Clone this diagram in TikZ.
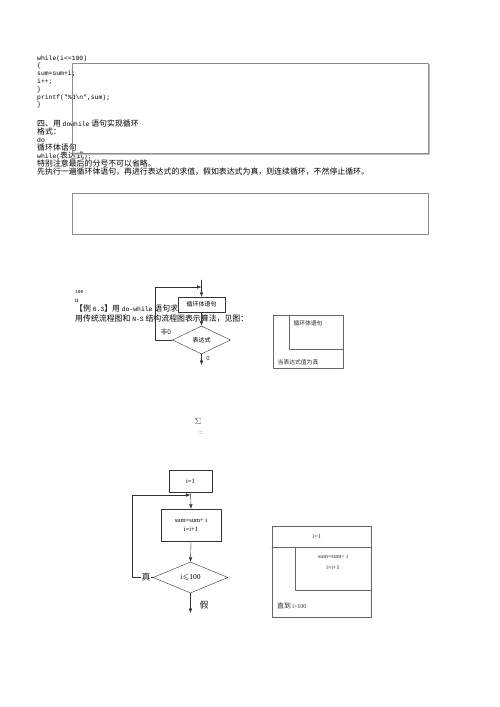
\documentclass[tikz,border=0pt]{standalone}
\usepackage{fontspec}
\setmainfont{Liberation Serif}
\setmonofont{Liberation Mono}
\newfontfamily\cjk{Noto Sans CJK SC}
\usepackage{amssymb}
\usetikzlibrary{arrows.meta, shapes.geometric}
\newcommand{\zh}[1]{{\cjk\fontsize{7.9}{8}\selectfont #1}}

\tikzset{
	codeline/.style={anchor=base west, inner sep=0pt, text=black, font=\fontsize{6.4}{8}\ttfamily},
	frame/.style={draw=black!45, line width=0.7pt},
	fbox/.style={draw=black!80, rectangle, inner sep=0pt, font=\cjk\fontsize{6}{7}\selectfont},
	fdia/.style={draw=black!80, diamond, inner sep=0pt, font=\cjk\fontsize{6}{7}\selectfont},
	flab/.style={inner sep=0.5pt, text=black!85},
	nsline/.style={draw=black!60, line width=0.6pt},
	nslab/.style={inner sep=0pt, text=black!85, font=\cjk\fontsize{5.8}{7}\selectfont},
}

\begin{document}
\begin{tikzpicture}[x=1pt, y=-1pt, >={Latex[length=4.5pt,width=3.5pt]}, line cap=round, line join=round]
\useasboundingbox (0,0) rectangle (500,707);
%========================
% text on top
%========================
\foreach \t [count=\i] in {{while(i<=100)},{\{},{sum=sum+i;},{i++;},{\}},{printf("\%d\textbackslash n",sum);},{\}}}
	\node[codeline] (c\i) at (37,{60+7.8*(\i-1)}) {\t};

\node[codeline] (s1) at (37,126.7) {\zh{四、用 }dowhile\zh{ 语句实现循环}};
\node[codeline] (s2) at (37,134.7) {\zh{格式：}};
\node[codeline] (s3) at (37,142.7) {do};
\node[codeline] (s4) at (37,150.7) {\zh{循环体语句}};
\node[codeline] (s5) at (37,158.7) {while(\zh{表达式});};
\node[codeline] (s6) at (37,166.7) {\zh{特别注意最后的分号不可以省略。}};
\node[codeline] (s7) at (37,174.7) {\zh{先执行一遍循环体语句，再进行表达式的求值，假如表达式为真，则连续循环，不然停止循环。}};

% empty frames
\draw[black!25] (429.5,64.5) -- (429.5,154.5) -- (73.5,154.5);
\draw[frame] (72,63) rectangle (428,153);
\draw[frame] (72,193) rectangle (428,234);

%========================
% example 6.3
%========================
\node[codeline, font=\fontsize{4.5}{5}\ttfamily] (h1) at (75,293) {100};
\node[codeline, font=\fontsize{7}{8}\selectfont] (h2) at (75,302) {n};
\node[codeline] (h3) at (75,311) {\zh{【例 }6.3\zh{】用 }do-while\zh{ 语句求}};
\node[codeline] (h4) at (75,321) {\zh{用传统流程图和 }N-S\zh{ 结构流程图表示算法，见图：}};

% flow chart 1
\node[fbox, minimum width=47, minimum height=15] (b1) at (201.5,304.5) {循环体语句};
\node[fdia, minimum width=58, minimum height=28] (d1) at (201.5,340) {表达式};
\coordinate (t1) at (201.5,280);
\coordinate (k1) at (201.5,287);
\coordinate (e1) at (201.5,365);
\draw[black!80, ->] (t1) -- (b1.north);
\draw[black!80, ->] (b1.south) -- (d1.north);
\draw[black!80, ->] (d1.south) -- (e1);
\draw[black!80, ->] (d1.west) -- ++(-17,0) |- (k1);
\node[flab, font=\cjk\fontsize{6.5}{7}\selectfont] (f0) at (166,332) {非0};
\node[flab, font=\cjk\fontsize{6}{7}\selectfont] (z0) at (208,358) {0};

% N-S chart 1
\draw[nsline] (273,315) rectangle (343,368);
\draw[nsline] (289,315) -- (289,349) -- (343,349);
\node[nslab] (ns1) at (308,323) {循环体语句};
\node[nslab] (ns2) at (298,362) {当表达式值为真};

% sum sign
\node[inner sep=0pt, text=black!70, font=\fontsize{9}{9}\selectfont] (sig) at (198,421) {$\Sigma$};
\node[inner sep=0pt, text=black!45, font=\fontsize{6}{6}\selectfont] (eq) at (201,433) {$=$};

%========================
% flow chart 2
%========================
\node[fbox, font=\fontsize{6.5}{7}\selectfont, minimum width=43, minimum height=22] (n1) at (190.5,481) {i=1};
\node[fbox, font=\fontsize{6.5}{7}\selectfont, minimum width=60, minimum height=32, align=center] (n2) at (191,525) {sum=sum+ i\\[2pt]i=i+1};
\node[fdia, font=\fontsize{7.5}{8}\selectfont, minimum width=75, minimum height=31] (d2) at (190.5,577.5) {i$\leqslant$100};
\coordinate (k2) at (190.5,495);
\coordinate (e2) at (190.5,613);
\draw[black!80, ->] (n1.south) -- (n2.north);
\draw[black!80, ->] (n2.south) -- (d2.north);
\draw[black!80, ->] (d2.south) -- (e2);
\draw[black!80, ->] (d2.west) -- ++(-21,0) |- (k2);
\node[flab, fill=white, font=\cjk\fontsize{9}{9}\selectfont] (tr) at (146,577.5) {真};
\node[flab, font=\cjk\fontsize{9}{9}\selectfont] (fa) at (204,605) {假};

% N-S chart 2
\draw[nsline] (272,526) rectangle (371,617);
\draw[nsline] (272,547) -- (371,547);
\draw[nsline] (295,547) -- (295,590) -- (371,590);
\node[nslab, font=\fontsize{6}{7}\selectfont] (m1) at (317,537) {i=1};
\node[nslab, font=\fontsize{6}{7}\selectfont] (m2) at (333,557) {sum=sum+ i};
\node[nslab, font=\fontsize{6}{7}\selectfont] (m3) at (333,568) {i=i+1};
\node[nslab, anchor=west, font=\cjk\fontsize{6.8}{7}\selectfont] (m4) at (277,606) {直到 {\fontsize{6}{7}\rmfamily i>100}};
\end{tikzpicture}
\end{document}
